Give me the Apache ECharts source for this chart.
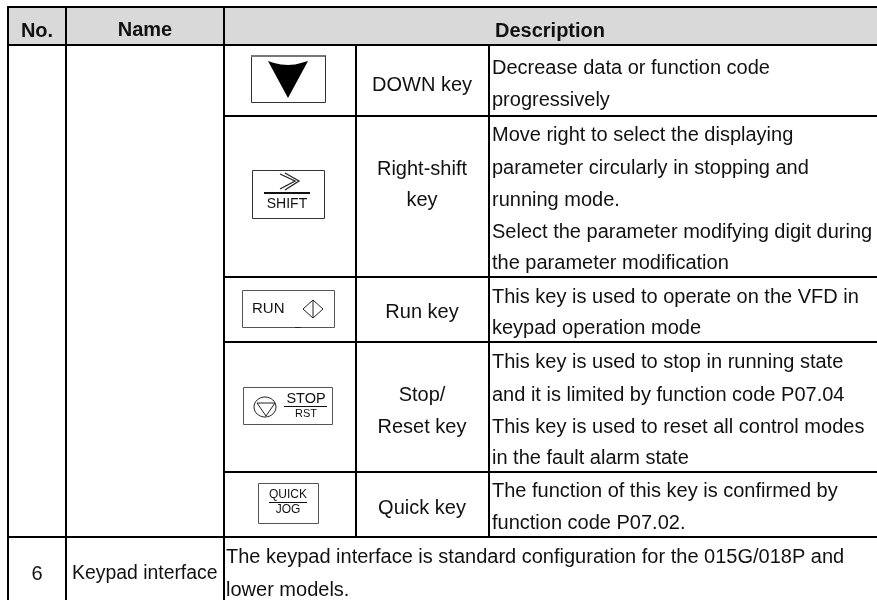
<!DOCTYPE html>
<html><head><meta charset="utf-8">
<style>html,body{margin:0;padding:0;background:#fff}#c{width:877px;height:600px}</style>
<script src="https://cdn.jsdelivr.net/npm/echarts@6/dist/echarts.min.js"></script>
</head><body><div id="c"></div>
<script>
// ---- table content ----
var headers = ["No.", "Name", "Description"];
var keyNames = [["DOWN key"], ["Right-shift", "key"], ["Run key"], ["Stop/", "Reset key"], ["Quick key"]];
var keyDescriptions = [
  ["Decrease data or function code", "progressively"],
  ["Move right to select the displaying", "parameter circularly in stopping and", "running mode.", "Select the parameter modifying digit during", "the parameter modification"],
  ["This key is used to operate on the VFD in", "keypad operation mode"],
  ["This key is used to stop in running state", "and it is limited by function code P07.04", "This key is used to reset all control modes", "in the fault alarm state"],
  ["The function of this key is confirmed by", "function code P07.02."]
];
var rowNumber = "6";
var rowName = "Keypad interface";
var rowDescription = ["The keypad interface is standard configuration for the 015G/018P and", "lower models."];

// ---- layout ----
var FONT = '"Liberation Sans", Arial, sans-serif';
var SIZE = 20;
var columnEdges = [8, 66, 224, 356, 489];
var rowEdges = [7, 45, 116, 277, 342, 472, 537, 599];
var rightEdge = 877;
var nameLineY = [[85], [169, 200], [312], [395, 427], [508]];
var descLineY = [[68, 100], [135, 168, 200, 232, 263], [297, 328], [362, 395, 427, 458], [491, 523]];
var lastDescY = [557, 590];

var g = [];
function text(s, x, y, o) {
  o = o || {};
  g.push({type: 'text', z: 5, style: {text: s, x: x, y: y, fill: o.fill || '#111',
    font: (o.bold ? 'bold ' : '') + (o.size || SIZE) + 'px ' + FONT,
    align: o.align || 'left', verticalAlign: 'middle'}});
}
function line(x1, y1, x2, y2, w, c) {
  g.push({type: 'line', z: 4, shape: {x1: x1, y1: y1, x2: x2, y2: y2}, style: {stroke: c || '#000', lineWidth: w || 2}});
}
function box(x1, y1, x2, y2, c) {
  g.push({type: 'rect', z: 4, shape: {x: x1 + .5, y: y1 + .5, width: x2 - x1, height: y2 - y1}, style: {fill: 'none', stroke: c || '#333', lineWidth: 1}});
}
function poly(points, w) {
  g.push({type: 'polyline', z: 4, shape: {points: points}, style: {fill: 'none', stroke: '#222', lineWidth: w || 1}});
}
function gon(points, fill) {
  g.push({type: 'polygon', z: 4, shape: {points: points}, style: {fill: fill || 'none', stroke: fill ? 'none' : '#222', lineWidth: 1}});
}
// header band
g.push({type: 'rect', z: 1, shape: {x: columnEdges[0], y: rowEdges[0], width: rightEdge - columnEdges[0], height: rowEdges[1] - rowEdges[0]}, style: {fill: '#d9d9d9'}});
// horizontal rules
line(columnEdges[0] - 1, rowEdges[0], rightEdge, rowEdges[0]);
line(columnEdges[0], rowEdges[1], rightEdge, rowEdges[1]);
[2, 3, 4, 5].forEach(function (i) { line(columnEdges[2], rowEdges[i], rightEdge, rowEdges[i]); });
line(columnEdges[0], rowEdges[6], rightEdge, rowEdges[6]);
// vertical rules
[0, 1, 2].forEach(function (i) { line(columnEdges[i], rowEdges[0], columnEdges[i], 600); });
[3, 4].forEach(function (i) { line(columnEdges[i], rowEdges[1], columnEdges[i], rowEdges[6]); });

// header text
text(headers[0], 37, 31, {bold: true, align: 'center'});
text(headers[1], 145, 30, {bold: true, align: 'center'});
text(headers[2], 550, 31, {bold: true, align: 'center'});

keyNames.forEach(function (lines, r) {
  lines.forEach(function (s, i) { text(s, 422, nameLineY[r][i], {align: 'center'}); });
});
keyDescriptions.forEach(function (lines, r) {
  lines.forEach(function (s, i) { text(s, 492, descLineY[r][i]); });
});
text(rowNumber, 37, 574, {align: 'center'});
text(rowName, 72, 574, {size: 19.4});
rowDescription.forEach(function (s, i) { text(s, 226, lastDescY[i]); });

// DOWN key
box(251, 55, 325, 102);
line(251, 56, 325, 56, 2, '#777');
gon([[268, 61], [274, 63], [281, 64.5], [288, 65], [295, 64.5], [301, 63], [308, 61], [288, 98]], '#000');
// SHIFT key
box(252, 170, 324, 218);
poly([[280, 174], [295, 181], [280, 189]], 1.3);
poly([[285, 173], [299, 181], [285, 190]], 1.3);
line(264, 193, 310, 193, 2, '#111');
text('SHIFT', 287, 204, {size: 14, align: 'center'});
// RUN key
box(242, 290, 334, 327, '#555');
text('RUN', 252, 309, {size: 15});
gon([[313, 300], [323, 309], [313, 318], [303, 309]]);
line(313, 300, 313, 318, 1, '#222');
line(295, 327.5, 301, 327.5, 1, '#222');
// STOP key
box(243, 387, 332, 424, '#555');
g.push({type: 'ellipse', z: 4, shape: {cx: 265, cy: 407, rx: 11, ry: 10}, style: {fill: 'none', stroke: '#222', lineWidth: 1}});
gon([[257, 403], [275, 403], [266, 416]]);
text('STOP', 306, 398.5, {size: 14.5, align: 'center'});
line(284, 406.5, 327, 406.5, 1, '#111');
text('RST', 306, 414, {size: 11, align: 'center'});
// QUICK key
box(258, 483, 318, 523, '#555');
text('QUICK', 288, 495, {size: 12, align: 'center'});
line(269, 502.5, 307, 502.5, 1, '#111');
text('JOG', 288, 510, {size: 12, align: 'center'});

var chart = echarts.init(document.getElementById('c'), null, {renderer: 'canvas'});
chart.setOption({backgroundColor: '#fff', animation: false, graphic: {elements: g}});
</script></body></html>
